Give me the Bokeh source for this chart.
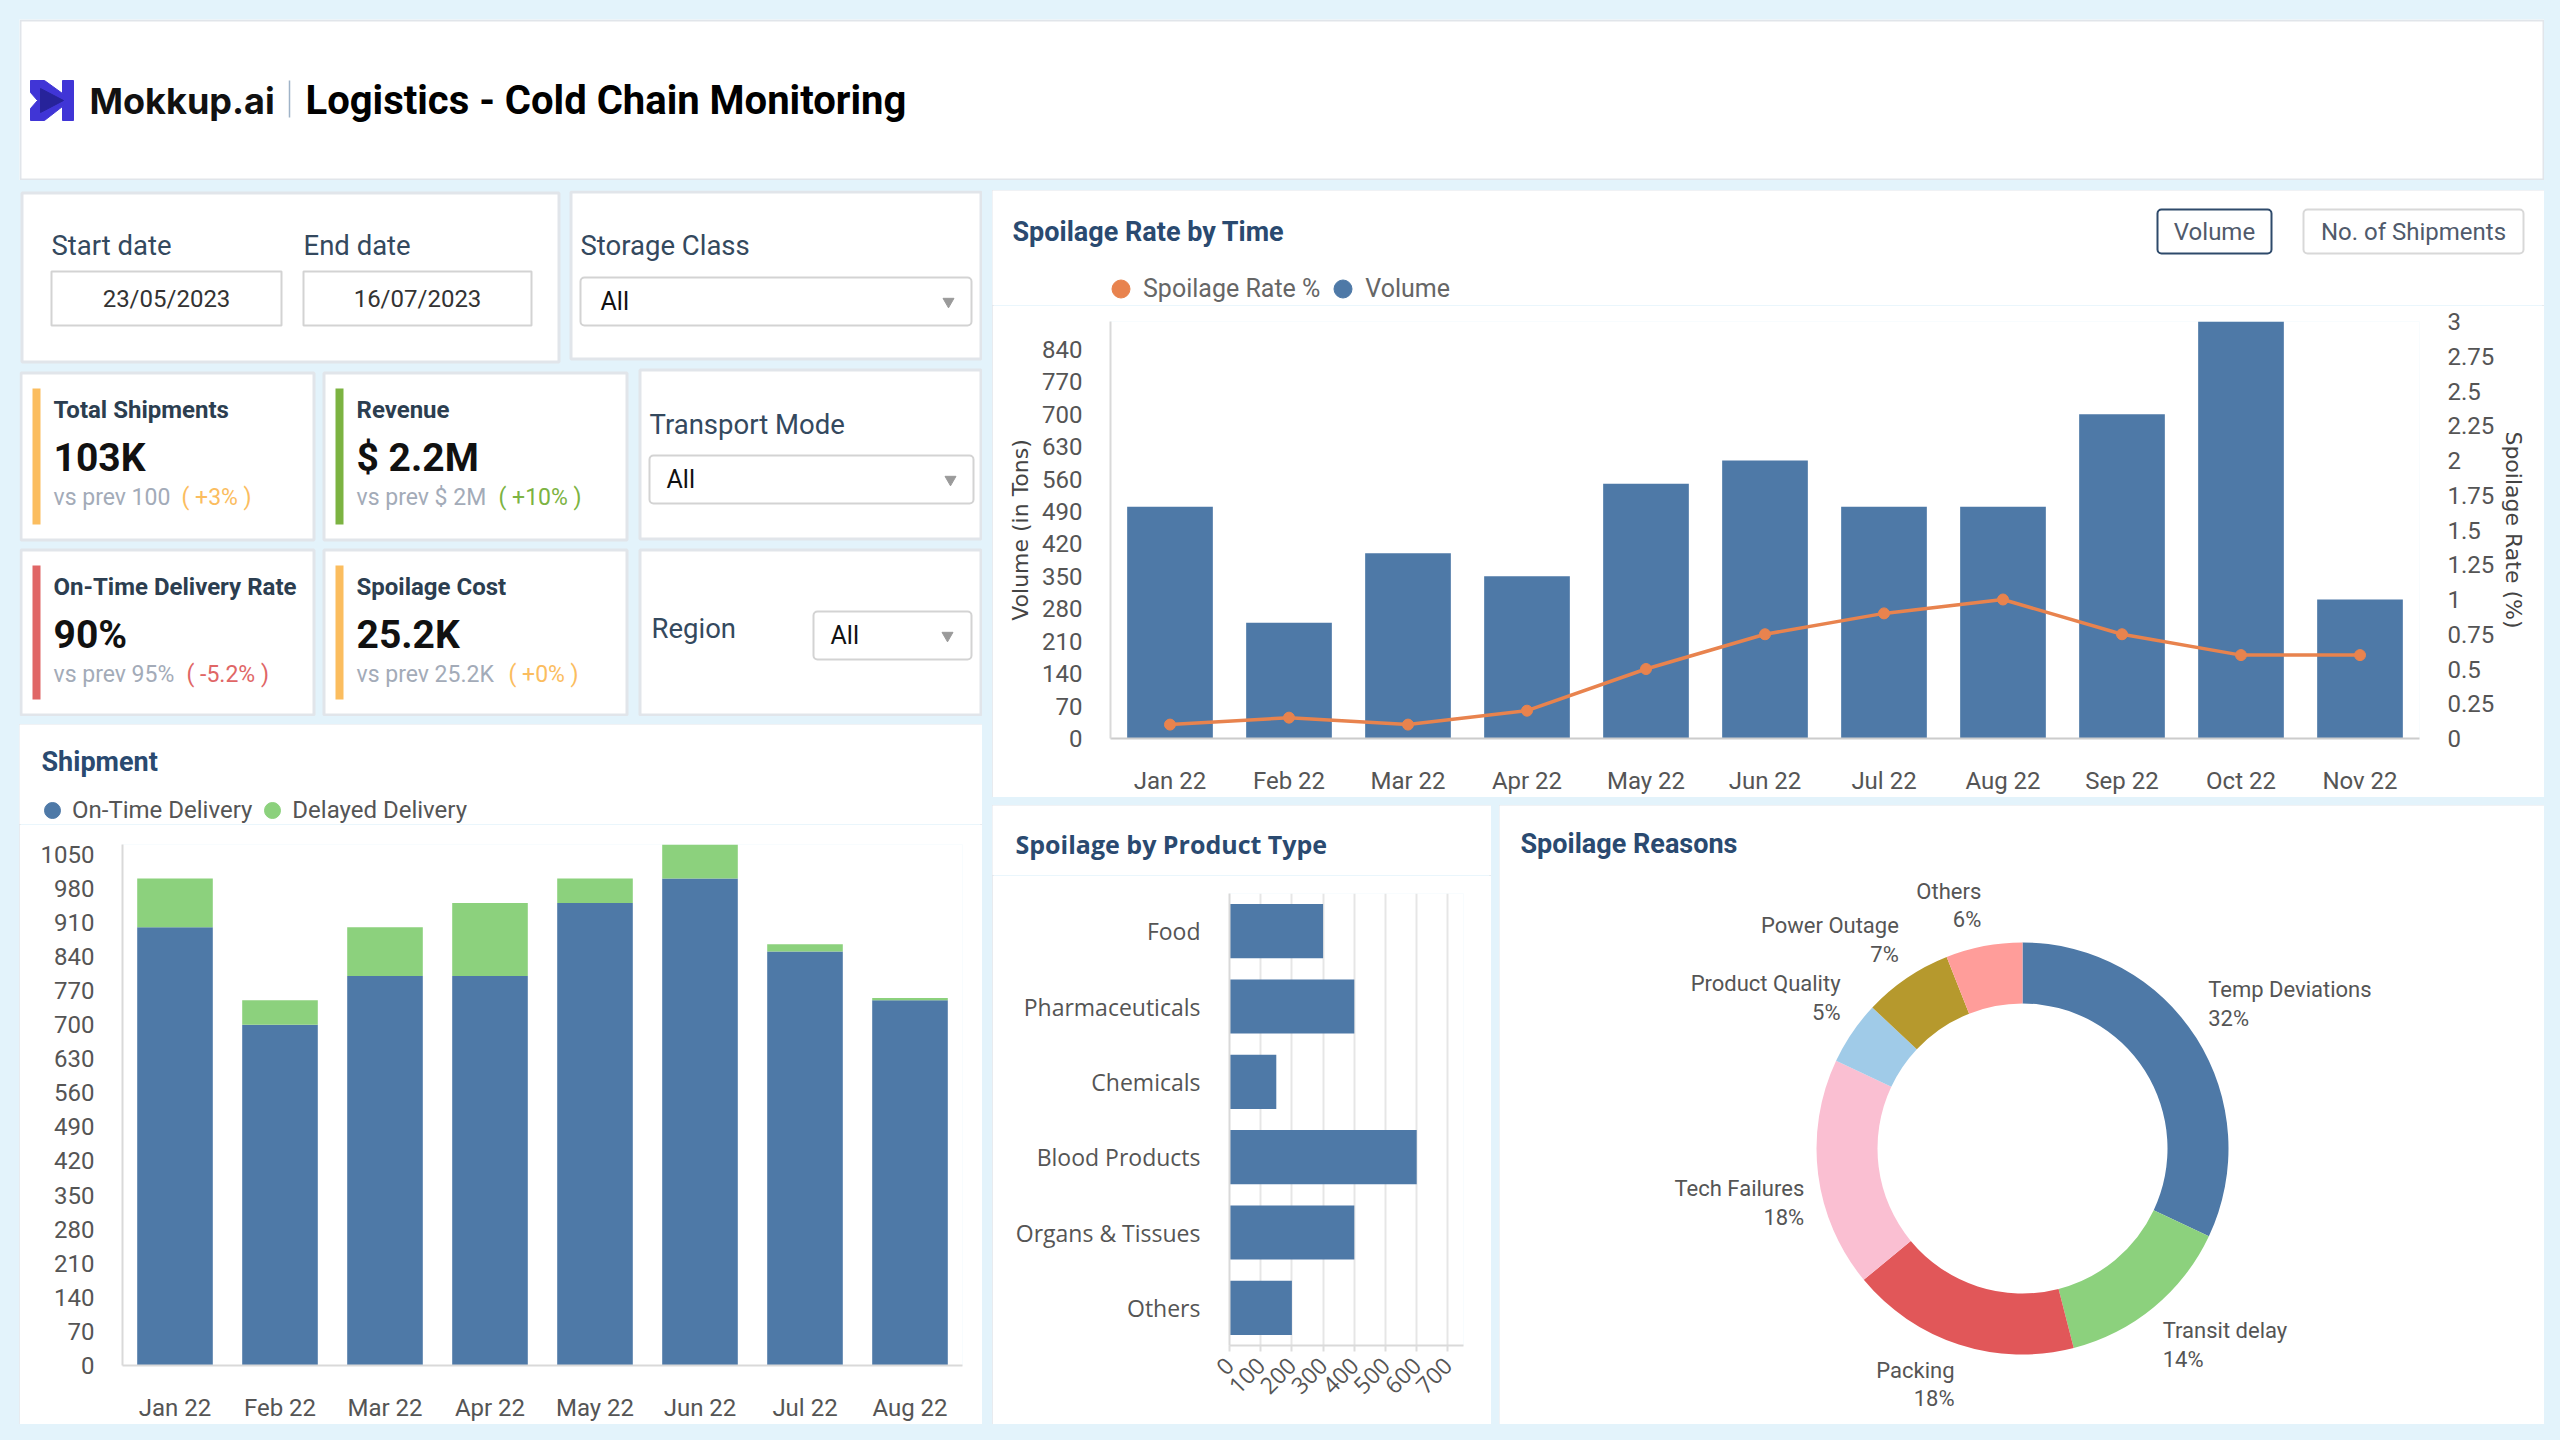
import math
from bokeh.plotting import figure
from bokeh.models import (ColumnDataSource, Range1d, FactorRange, LinearAxis, Legend, LegendItem,
                          NumeralTickFormatter, FixedTicker)
from bokeh.layouts import column, row
from bokeh.core.properties import value
from bokeh.embed import file_html
from bokeh.resources import INLINE

# ---------------- data ----------------
rate_months = ["Jan 22", "Feb 22", "Mar 22", "Apr 22", "May 22", "Jun 22",
               "Jul 22", "Aug 22", "Sep 22", "Oct 22", "Nov 22"]
volume_tons = [500, 250, 400, 350, 550, 600, 500, 500, 700, 900, 300]
spoilage_rate = [0.1, 0.15, 0.1, 0.2, 0.5, 0.75, 0.9, 1.0, 0.75, 0.6, 0.6]

ship_months = ["Jan 22", "Feb 22", "Mar 22", "Apr 22", "May 22", "Jun 22", "Jul 22", "Aug 22"]
on_time = [900, 700, 800, 800, 950, 1000, 850, 750]
delayed = [100, 50, 100, 150, 50, 70, 15, 5]

product_types = ["Food", "Pharmaceuticals", "Chemicals", "Blood Products", "Organs & Tissues", "Others"]
product_spoilage = [300, 400, 150, 600, 400, 200]

reasons = ["Temp Deviations", "Transit delay", "Packing", "Tech Failures",
           "Product Quality", "Power Outage", "Others"]
reason_pct = [32, 14, 18, 18, 5, 7, 6]

kpi_titles = ["Total Shipments", "Revenue", "On-Time Delivery Rate", "Spoilage Cost"]
kpi_values = ["103K", "$ 2.2M", "90%", "25.2K"]
kpi_prev = ["vs prev 100", "vs prev $ 2M", "vs prev 95%", "vs prev 25.2K"]
kpi_delta = ["( +3% )", "( +10% )", "( -5.2% )", "( +0% )"]

start_date = "23/05/2023"
end_date = "16/07/2023"
filter_value = "All"
toggle_buttons = ["Volume", "No. of Shipments"]

# ---------------- styles ----------------
BG = "#e3f3fb"
BLUE = "#4e79a7"
GREEN = "#8cd17d"
ORANGE = "#e8834e"
TITLE_C = "#2a4a70"
LABEL_C = "#34495e"
TICK_C = "#555555"
PANEL_LINE = "#e1e5ea"
PANEL_STYLE = {"outline": f"2px solid {PANEL_LINE}", "outline-offset": "-2px"}
reason_colors = ["#4e79a7", "#8cd17d", "#e15759", "#fabfd2", "#a0cbe8", "#b6992d", "#ff9d9a"]
kpi_accent = ["#fbbd5f", "#7cb342", "#e06666", "#fbbd5f"]


def decor(w, h, bg=BG):
    p = figure(width=w, height=h, x_range=Range1d(0, w), y_range=Range1d(h, 0),
               x_axis_location=None, y_axis_location=None, min_border=0, title=None,
               output_backend="svg", toolbar_location=None)
    p.grid.visible = False
    p.outline_line_color = None
    p.background_fill_color = bg
    p.border_fill_color = bg
    return p


def txt(p, x, y, s, size, color, font="Roboto", style="normal", align="left", baseline="middle"):
    p.text(x=[x], y=[y], text=[s], text_font=value(font), text_font_size=f"{size}px",
           text_color=color, text_font_style=style, text_align=align, text_baseline=baseline)


def panel(p, l, t, r, b, lw=3):
    p.quad(left=[l + lw / 2], right=[r - lw / 2], top=[t + lw / 2], bottom=[b - lw / 2],
           fill_color="white", line_color=PANEL_LINE, line_width=lw)


def box(p, l, t, r, b, color="#d3d3d3", radius=0):
    p.quad(left=[l], right=[r], top=[t], bottom=[b], fill_color="white", line_color=color,
           line_width=2, border_radius=radius)


def style_chart(p):
    p.outline_line_color = None
    p.background_fill_color = "white"
    p.border_fill_color = "white"
    p.grid.visible = False
    for ax in p.axis:
        ax.major_tick_line_color = None
        ax.minor_tick_line_color = None
        ax.axis_line_color = "#d9d9d9"
        ax.axis_line_width = 2
        ax.major_label_text_font = "Roboto"
        ax.major_label_text_font_size = "24px"
        ax.major_label_text_color = TICK_C
        ax.major_label_standoff = 22


def dot_legend(p, labels, colors, loc, glyph, standoff, spacing, size, color):
    # legend-only marker renderers; their single point lies outside the visible range
    items = []
    for lab, col in zip(labels, colors):
        r = p.scatter(x=[-500], y=[-500], marker="circle", color=col)
        items.append(LegendItem(label=lab, renderers=[r]))
    p.add_layout(Legend(items=items, orientation="horizontal", location=loc, glyph_width=glyph,
                        glyph_height=glyph, label_standoff=standoff, spacing=spacing, padding=0,
                        margin=0, border_line_color=None, background_fill_alpha=0,
                        label_text_font="Roboto", label_text_font_size=f"{size}px",
                        label_text_color=color))


# ---------------- header ----------------
header = decor(2525, 161, bg="white")
header.quad(left=[1], right=[2524], top=[1], bottom=[160], fill_color="white",
            line_color=PANEL_LINE, line_width=2)
header.patch(x=[11, 25, 43, 43, 54, 54, 43, 43, 25, 11, 11, 18, 11],
             y=[61, 61, 74, 61, 61, 101, 101, 87, 101, 101, 89, 81, 73], color="#4035d6")
header.patch(x=[21, 44, 21], y=[69, 81, 93], color="#27239a")
txt(header, 70, 81, "Mokkup.ai", 36, "#111111", font="Inter", style="bold")
header.segment(x0=[270], y0=[61], x1=[270], y1=[98], line_color="#9fb3c8", line_width=1.5)
txt(header, 286, 81, "Logistics - Cold Chain Monitoring", 40, "#000000", style="bold")

# ---------------- filters + KPI block ----------------
tl = decor(963, 526)
panel(tl, 1, 1, 541, 173)
panel(tl, 550, 0, 963, 170)
panel(tl, 619, 178, 963, 350)
panel(tl, 619, 358, 963, 526)

LBL = 27.5
txt(tl, 32, 55, "Start date", LBL, LABEL_C)
txt(tl, 284, 55, "End date", LBL, LABEL_C)
box(tl, 32, 81, 262, 135)
box(tl, 284, 81, 512, 135)
txt(tl, 147, 108, start_date, 24, "#333333", align="center")
txt(tl, 398, 108, end_date, 24, "#333333", align="center")

txt(tl, 561, 55, "Storage Class", LBL, LABEL_C)
box(tl, 561, 87, 952, 135, radius=4)
txt(tl, 581, 111, filter_value, 25, "#111111")

txt(tl, 630, 234, "Transport Mode", LBL, LABEL_C)
box(tl, 630, 265, 954, 313, radius=4)
txt(tl, 647, 289, filter_value, 25, "#111111")

txt(tl, 632, 438, "Region", LBL, LABEL_C)
box(tl, 794, 421, 952, 469, radius=4)
txt(tl, 811, 445, filter_value, 25, "#111111")

tl.scatter(x=[929, 931, 928], y=[111, 289, 445], marker="inverted_triangle", size=11, color="#9a9a9a")

card_origin = [(0, 181), (303, 181), (0, 358), (303, 358)]
card_size = [(296, 170), (306, 170), (296, 168), (306, 168)]
delta_dx = [162, 176, 167, 186]
for i in range(4):
    cx, cy = card_origin[i]
    w, h = card_size[i]
    panel(tl, cx, cy, cx + w, cy + h)
    tl.quad(left=[cx + 13], right=[cx + 21], top=[cy + 17], bottom=[cy + h - 17],
            fill_color=kpi_accent[i], line_color=None)
    txt(tl, cx + 34, cy + 38, kpi_titles[i], 24, "#2c3e50", style="bold")
    txt(tl, cx + 34, cy + 86, kpi_values[i], 39, "#111111", style="bold")
    txt(tl, cx + 34, cy + 126, kpi_prev[i], 23, "#a3abb8")
    txt(tl, cx + delta_dx[i], cy + 126, kpi_delta[i], 23, kpi_accent[i])

# ---------------- Shipment chart ----------------
ship_head = decor(963, 100, bg="white")
txt(ship_head, 22, 37, "Shipment", 27, TITLE_C, style="bold")
dot_legend(ship_head, ["On-Time Delivery", "Delayed Delivery"], [BLUE, GREEN], (13, -6),
           40, -2, -8, 24, "#555555")

ship_src = ColumnDataSource(dict(month=ship_months, on_time=on_time, delayed=delayed))
ship_top = max(a + b for a, b in zip(on_time, delayed))
ship = figure(width=963, height=600, x_range=FactorRange(factors=ship_months),
              y_range=Range1d(0, ship_top), min_border_left=103, min_border_right=20,
              min_border_top=20, min_border_bottom=57, output_backend="svg", toolbar_location=None)
ship.vbar_stack(["on_time", "delayed"], x="month", width=0.72, fill_color=[BLUE, GREEN],
                line_color=None, source=ship_src)
style_chart(ship)
ship.yaxis.ticker = FixedTicker(ticks=list(range(0, 1051, 70)))
ship.yaxis.major_label_standoff = 22

# ---------------- Spoilage rate by time ----------------
rate_head = decor(1552, 115, bg="white")
txt(rate_head, 20, 41, "Spoilage Rate by Time", 27, TITLE_C, style="bold")
box(rate_head, 1165, 19, 1279, 63, color="#2e4a6b", radius=4)
box(rate_head, 1311, 19, 1531, 63, color="#d8d8d8", radius=4)
txt(rate_head, 1222, 41, toggle_buttons[0], 24, "#505a6b", align="center")
txt(rate_head, 1421, 41, toggle_buttons[1], 24, "#505a6b", align="center")
dot_legend(rate_head, ["Spoilage Rate %", "Volume"], [ORANGE, BLUE], (106, -6),
           45, -4, -18, 25, "#666666")

rate_src = ColumnDataSource(dict(month=rate_months, volume=volume_tons, rate=spoilage_rate))
rate = figure(width=1552, height=492, x_range=FactorRange(factors=rate_months),
              y_range=Range1d(0, max(volume_tons)), min_border_left=118, min_border_right=125,
              min_border_top=16, min_border_bottom=58, output_backend="svg", toolbar_location=None)
rate.extra_y_ranges = {"rate": Range1d(0, 3)}
rate.vbar(x="month", top="volume", width=0.72, fill_color=BLUE, line_color=None, source=rate_src)
rate.line(x="month", y="rate", y_range_name="rate", line_color=ORANGE, line_width=3.5, source=rate_src)
rate.scatter(x="month", y="rate", y_range_name="rate", size=11, color=ORANGE, source=rate_src)
rate.add_layout(LinearAxis(y_range_name="rate", axis_label="Spoilage Rate (%)"), "right")
style_chart(rate)
rate.yaxis[0].ticker = FixedTicker(ticks=list(range(0, 841, 70)))
rate.yaxis[0].axis_label = "Volume (in Tons)"
ra = rate.yaxis[1]
ra.ticker = FixedTicker(ticks=[i * 0.25 for i in range(13)])
ra.formatter = NumeralTickFormatter(format="0.[00]")
ra.axis_line_color = None
for ax in rate.yaxis:
    ax.axis_label_text_font = "DejaVu Sans"
    ax.axis_label_text_font_size = "22px"
    ax.axis_label_text_font_style = "normal"
    ax.axis_label_text_color = "#444444"
rate.yaxis[0].axis_label_standoff = 6
ra.axis_label_standoff = 4
rate.xaxis.axis_line_color = "#cccccc"

# ---------------- Spoilage by product type ----------------
prod_head = decor(499, 70, bg="white")
txt(prod_head, 23, 38, "Spoilage by Product Type", 25, TITLE_C, font="Open Sans", style="bold")

prod_src = ColumnDataSource(dict(ptype=product_types, val=product_spoilage))
prod = figure(width=499, height=549, y_range=FactorRange(factors=list(reversed(product_types))),
              x_range=Range1d(0, 750), min_border_left=237, min_border_right=28,
              min_border_top=18, min_border_bottom=79, output_backend="svg", toolbar_location=None)
prod.hbar(y="ptype", right="val", height=0.72, fill_color=BLUE, line_color=None, source=prod_src)
style_chart(prod)
prod.xgrid.visible = True
prod.xgrid.grid_line_color = "#e6e6e6"
prod.xgrid.grid_line_width = 2
prod.xaxis.ticker = FixedTicker(ticks=list(range(0, 701, 100)))
prod.xaxis.major_label_orientation = math.pi / 4
prod.xaxis.major_tick_line_color = "#dddddd"
prod.xaxis.major_tick_line_width = 2
prod.xaxis.major_tick_out = 6
prod.xaxis.major_tick_in = 0
prod.xaxis.major_label_standoff = 10
prod.xaxis.major_label_text_font = "Open Sans"
prod.xaxis.major_label_text_font_size = "23px"
prod.yaxis.major_label_text_font = "Open Sans"
prod.yaxis.major_label_text_font_size = "23px"
prod.yaxis.major_label_standoff = 23

# ---------------- Spoilage reasons donut ----------------
dw, dh = 1045, 619
dcx, dcy = 523, 343
total = sum(reason_pct)
cum = 0
starts, ends, lx, ly, lalign, lbase, ltext = [], [], [], [], [], [], []
for name, pct in zip(reasons, reason_pct):
    t1 = cum / total * 2 * math.pi
    cum += pct
    t2 = cum / total * 2 * math.pi
    starts.append(math.pi / 2 - t2)
    ends.append(math.pi / 2 - t1)
    tm = (t1 + t2) / 2
    c = math.cos(tm)
    lx.append(220 * math.sin(tm))
    ly.append(220 * c)
    lalign.append("left" if math.sin(tm) > 0 else "right")
    lbase.append("bottom" if c > 0.35 else "top")
    ltext.append(f"{name}\n{pct}%")
donut_src = ColumnDataSource(dict(start=starts, end=ends, color=reason_colors, reason=reasons,
                                  pct=reason_pct))
label_src = ColumnDataSource(dict(x=lx, y=ly, text=ltext, align=lalign, base=lbase))
donut = figure(width=dw, height=dh, x_range=Range1d(-dcx, dw - dcx), y_range=Range1d(-(dh - dcy), dcy),
               x_axis_location=None, y_axis_location=None, min_border=0, title=None,
               output_backend="svg", toolbar_location=None)
donut.annular_wedge(x=0, y=0, inner_radius=145, outer_radius=206, start_angle="start", end_angle="end",
                    fill_color="color", line_color=None, source=donut_src)
donut.text(x="x", y="y", text="text", text_align="align", text_baseline="base", source=label_src,
           text_font=value("Roboto"), text_font_size="22px", text_color="#555555", text_line_height=1.15)
donut.text(x=[21 - dcx], y=[dcy - 38], text=["Spoilage Reasons"], text_font=value("Roboto"),
           text_font_size="27px", text_font_style="bold", text_color=TITLE_C, text_baseline="middle")
donut.grid.visible = False
donut.outline_line_color = None
donut.background_fill_color = "white"
donut.border_fill_color = "white"

# ---------------- layout ----------------
ship_panel = column(row(ship_head), row(ship), spacing=0, styles=PANEL_STYLE)
rate_panel = column(row(rate_head), row(rate), spacing=0, styles=PANEL_STYLE)
prod_panel = column(row(prod_head), row(prod), spacing=0, styles=PANEL_STYLE)
donut_panel = column(donut, styles=PANEL_STYLE)
left_col = column(row(tl), ship_panel, spacing=8)
right_col = column(rate_panel, row(prod_panel, donut_panel, spacing=8), spacing=8)
body = row(left_col, right_col, spacing=10)
root = column(header, body, spacing=10,
              styles={"background-color": BG, "padding": "19px 16px 16px 19px"})

open("out.html", "w").write(file_html(root, INLINE))
